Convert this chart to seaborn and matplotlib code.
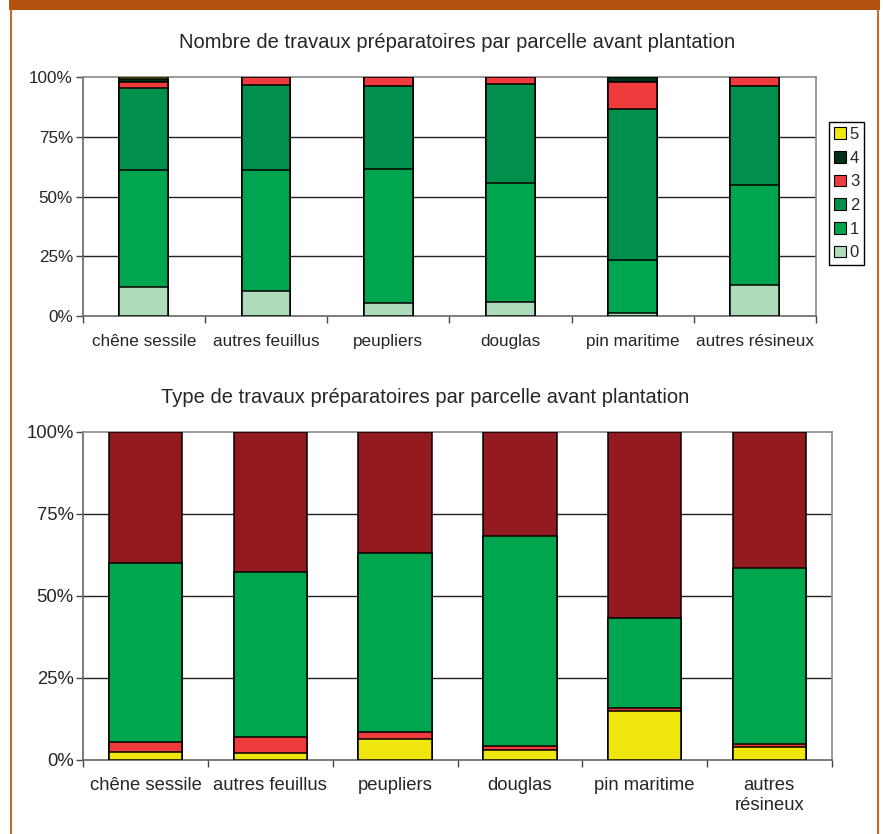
import numpy as np
import pandas as pd
import matplotlib
matplotlib.use("Agg")
import matplotlib.pyplot as plt
from matplotlib.patches import Rectangle, Patch
from matplotlib.lines import Line2D
import seaborn as sns

# Essences
essences = ["chêne sessile", "autres feuillus", "peupliers", "douglas", "pin maritime", "autres résineux"]
essences_bas = ["chêne sessile", "autres feuillus", "peupliers", "douglas", "pin maritime", "autres\nrésineux"]

# Nombre de travaux préparatoires (% des parcelles), par nombre de travaux
nb_0 = [12.1, 10.6, 5.3, 5.9, 1.4, 13.1]
nb_1 = [48.9, 50.6, 56.3, 49.7, 21.9, 41.8]
nb_2 = [34.7, 35.5, 34.6, 41.4, 63.6, 41.3]
nb_3 = [2.5, 3.3, 3.8, 3.0, 11.0, 3.8]
nb_4 = [1.0, 0.0, 0.0, 0.0, 2.1, 0.0]
nb_5 = [0.8, 0.0, 0.0, 0.0, 0.0, 0.0]
nb_labels = ["0", "1", "2", "3", "4", "5"]

# Type de travaux préparatoires (% des parcelles)
type_jaune = [2.4, 2.1, 6.4, 3.0, 14.9, 3.9]
type_rouge = [3.1, 4.9, 2.0, 1.3, 1.0, 1.0]
type_vert = [54.6, 50.3, 54.8, 63.8, 27.3, 53.7]
type_bordeaux = [39.9, 42.7, 36.8, 31.9, 56.8, 41.4]

nb_colors = ["#AEDBBA", "#00A550", "#008F4C", "#EF3B3B", "#00301A", "#EEE60C"]
type_colors = ["#EEE60C", "#EF3B3B", "#00A550", "#931A1E"]

sns.set_theme(style="white")
plt.rcParams["font.family"] = ["Liberation Sans", "DejaVu Sans"]

fig = plt.figure(figsize=(8.83, 8.34), dpi=100)
W, H = 883, 834


def px_axes(l, t, r, b):
    return fig.add_axes([l / W, 1 - b / H, (r - l) / W, (b - t) / H])


def stacked(ax, cats, layers, colors, width):
    cum = np.cumsum(np.array(layers, dtype=float), axis=0)
    for k in range(len(layers) - 1, -1, -1):
        df = pd.DataFrame({"essence": cats, "part": cum[k]})
        sns.barplot(data=df, x="essence", y="part", order=cats, color=colors[k],
                    saturation=1, width=width, edgecolor="black", linewidth=1.1,
                    ax=ax, zorder=3)


def style_axes(ax, cats, fs):
    ax.set_xlim(-0.5, len(cats) - 0.5)
    ax.set_ylim(0, 100)
    ax.set_xlabel("")
    ax.set_ylabel("")
    ax.set_yticks([0, 25, 50, 75, 100])
    ax.set_yticklabels(["0%", "25%", "50%", "75%", "100%"], fontsize=fs)
    ax.set_xticks(range(len(cats)))
    ax.set_xticklabels(cats, fontsize=fs)
    ax.set_xticks(np.arange(-0.5, len(cats), 1.0), minor=True)
    ax.tick_params(axis="x", which="major", length=0)
    ax.tick_params(axis="x", which="minor", length=5, width=1, color="#444444", direction="out", bottom=True)
    ax.tick_params(axis="y", which="major", length=5, width=1, color="#444444", direction="out", left=True, pad=2)
    for y in (25, 50, 75):
        ax.axhline(y, color="#222222", lw=1.0, zorder=1)
    for s in ax.spines.values():
        s.set_visible(True)
        s.set_color("#8a8a8a")
        s.set_linewidth(1.2)
    ax.spines["left"].set_color("#666666")
    ax.spines["bottom"].set_color("#666666")
    ax.set_facecolor("white")


# Graphique du haut : nombre de travaux
ax1 = px_axes(82.7, 77.3, 816, 316)
stacked(ax1, essences, [nb_0, nb_1, nb_2, nb_3, nb_4, nb_5], nb_colors, 0.40)
style_axes(ax1, essences, 12.3)
ax1.tick_params(axis="x", which="major", pad=13)
fig.text(457 / W, 1 - 42 / H, "Nombre de travaux préparatoires par parcelle avant plantation",
         ha="center", va="center", fontsize=14.5)

handles = [Patch(facecolor=nb_colors[k], edgecolor="black", linewidth=0.8) for k in range(5, -1, -1)]
leg = fig.legend(handles, nb_labels[::-1], loc="upper left",
                 bbox_to_anchor=(829 / W, 1 - 122 / H), fontsize=12,
                 frameon=True, fancybox=False, edgecolor="black", framealpha=1,
                 handlelength=0.7, handleheight=0.7, handletextpad=0.25,
                 labelspacing=0.52, borderpad=0.3, borderaxespad=0)
leg.get_frame().set_linewidth(1.0)

# Graphique du bas : type de travaux
ax2 = px_axes(83.3, 431.7, 831.7, 760)
stacked(ax2, essences_bas, [type_jaune, type_rouge, type_vert, type_bordeaux], type_colors, 0.59)
style_axes(ax2, essences_bas, 13.3)
ax2.tick_params(axis="x", which="major", pad=12)
for t in ax2.get_xticklabels():
    t.set_verticalalignment("top")
    t.set_linespacing(1.25)
fig.text(425 / W, 1 - 398 / H, "Type de travaux préparatoires par parcelle avant plantation",
         ha="center", va="center", fontsize=14.5)

# Encadré
brown = "#B1530F"
fig.patches.append(Rectangle((9 / W, 1 - 10 / H), (880 - 9) / W, 10 / H,
                             transform=fig.transFigure, facecolor=brown, edgecolor="none", zorder=0))
fig.lines.append(Line2D([10.5 / W, 10.5 / W], [0, 1 - 10 / H], transform=fig.transFigure,
                        color="#C8692A", lw=1.5))
fig.lines.append(Line2D([877.5 / W, 877.5 / W], [0, 1 - 10 / H], transform=fig.transFigure,
                        color="#C8692A", lw=1.5))

fig.savefig("out.png", dpi=100, facecolor="white")
